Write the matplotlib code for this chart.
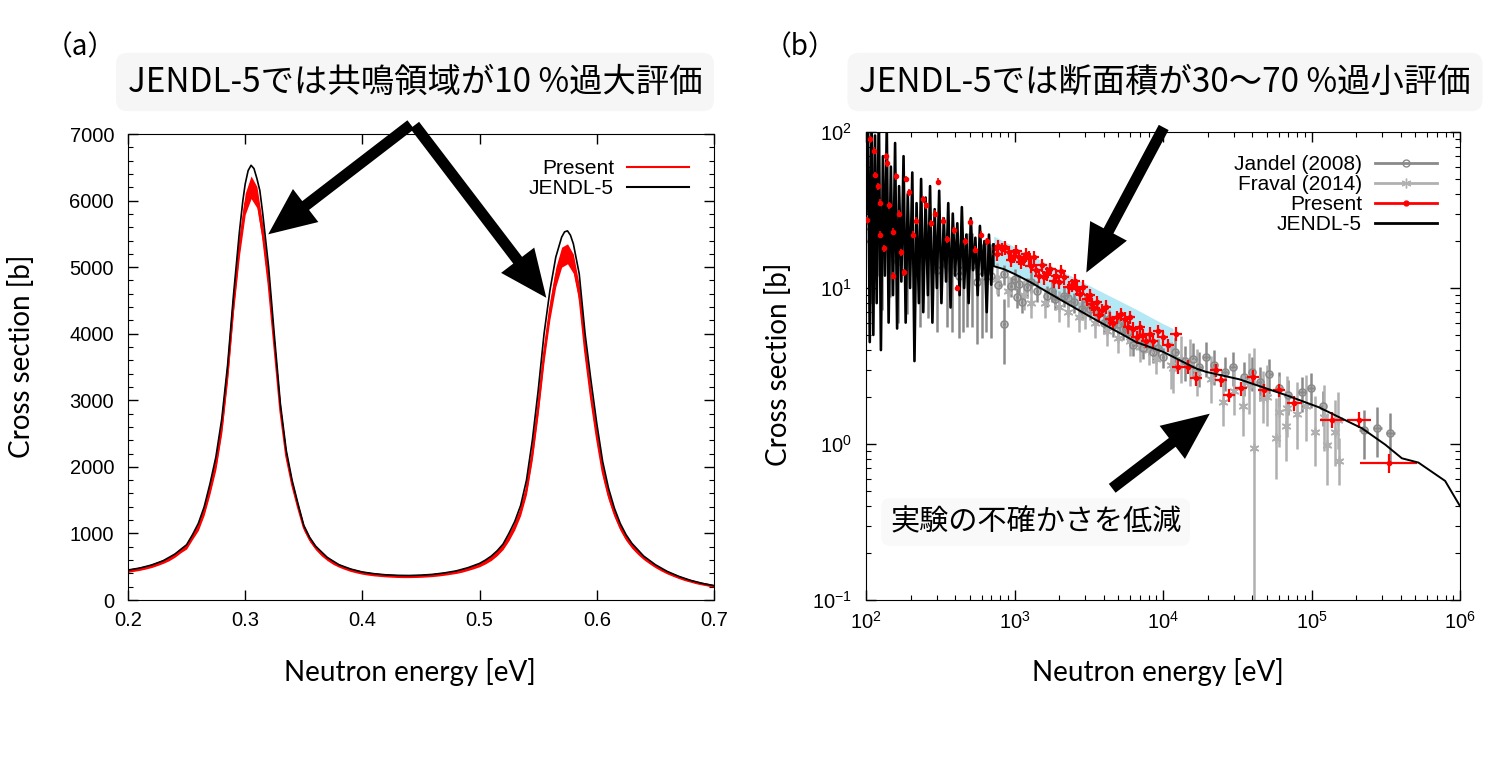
import matplotlib
matplotlib.use('Agg')
import matplotlib.pyplot as plt
from matplotlib.lines import Line2D
from matplotlib.patches import FancyArrowPatch
from matplotlib.ticker import MultipleLocator, LogLocator, NullFormatter
import numpy as np

plt.rcParams['font.family'] = ['Liberation Sans', 'Noto Sans CJK JP', 'DejaVu Sans']

### panel (a): resonance region, linear scale ###
a_jendl_x = [0.200, 0.210, 0.220, 0.230, 0.240, 0.250, 0.255, 0.260, 0.265, 0.270,
             0.275, 0.280, 0.285, 0.290, 0.295, 0.298, 0.300, 0.3025, 0.305, 0.3075,
             0.310, 0.3125, 0.315, 0.320, 0.325, 0.330, 0.335, 0.340, 0.345, 0.350,
             0.355, 0.360, 0.370, 0.380, 0.390, 0.400, 0.410, 0.420, 0.430, 0.440,
             0.450, 0.460, 0.470, 0.480, 0.490, 0.500, 0.505, 0.510, 0.515, 0.520,
             0.525, 0.530, 0.535, 0.540, 0.545, 0.550, 0.555, 0.560, 0.565, 0.570,
             0.5725, 0.575, 0.5775, 0.580, 0.585, 0.590, 0.595, 0.600, 0.605, 0.610,
             0.615, 0.620, 0.625, 0.630, 0.640, 0.650, 0.660, 0.670, 0.680, 0.690, 0.700]
a_jendl_y = [450, 480, 525, 590, 690, 830, 980, 1150, 1400, 1750,
             2150, 2720, 3530, 4580, 5520, 6000, 6250, 6450, 6530, 6480,
             6330, 6150, 5800, 5000, 3950, 2950, 2250, 1800, 1450, 1120,
             940, 810, 640, 530, 465, 420, 395, 378, 370, 368,
             373, 385, 407, 437, 485, 550, 600, 660, 740, 840,
             1000, 1180, 1420, 1800, 2400, 3150, 4000, 4650, 5150, 5450,
             5530, 5545, 5480, 5350, 4900, 4000, 3300, 2650, 2080, 1680,
             1380, 1150, 980, 850, 660, 530, 430, 355, 295, 250, 215]

a_red_x = [0.200, 0.205, 0.210, 0.215, 0.220, 0.225, 0.230, 0.235, 0.240, 0.245,
           0.250, 0.255, 0.260, 0.265, 0.270, 0.275, 0.280, 0.285, 0.290, 0.295,
           0.300, 0.305, 0.310, 0.315, 0.320, 0.325, 0.330, 0.335, 0.340, 0.345,
           0.350, 0.355, 0.360, 0.365, 0.370, 0.375, 0.380, 0.385, 0.390, 0.395,
           0.400, 0.405, 0.410, 0.415, 0.420, 0.425, 0.430, 0.435, 0.440, 0.445,
           0.450, 0.455, 0.460, 0.465, 0.470, 0.475, 0.480, 0.485, 0.490, 0.495,
           0.500, 0.505, 0.510, 0.515, 0.520, 0.525, 0.530, 0.535, 0.540, 0.545,
           0.550, 0.555, 0.560, 0.565, 0.570, 0.575, 0.580, 0.585, 0.590, 0.595,
           0.600, 0.605, 0.610, 0.615, 0.620, 0.625, 0.630, 0.635, 0.640, 0.645,
           0.650, 0.655, 0.660, 0.665, 0.670, 0.675, 0.680, 0.685, 0.690, 0.695, 0.700]
a_red_y = [440, 455, 470, 490, 515, 545, 580, 620, 675, 745,
           805, 950, 1090, 1330, 1660, 2040, 2600, 3420, 4450, 5300,
           5950, 6200, 6050, 5500, 4750, 3800, 2850, 2170, 1740, 1400,
           1090, 915, 790, 695, 622, 563, 518, 483, 453, 430,
           411, 396, 385, 376, 369, 364, 360, 358, 358, 360,
           363, 368, 375, 384, 396, 409, 424, 444, 470, 498,
           530, 575, 630, 705, 800, 940, 1110, 1330, 1660, 2200,
           2900, 3700, 4350, 4850, 5150, 5200, 5050, 4600, 3750, 3050,
           2450, 1930, 1570, 1300, 1090, 930, 810, 715, 635, 570,
           510, 460, 415, 378, 343, 312, 287, 263, 244, 227, 211]
a_red_err = [25, 25, 25, 25, 28, 28, 30, 30, 32, 35,
             38, 40, 45, 55, 65, 80, 95, 110, 125, 140,
             160, 170, 160, 140, 120, 100, 85, 70, 60, 50,
             45, 40, 35, 32, 30, 28, 26, 25, 25, 24,
             24, 23, 23, 22, 22, 22, 22, 22, 22, 22,
             22, 22, 23, 23, 24, 24, 25, 26, 27, 28,
             30, 32, 35, 38, 42, 48, 55, 62, 75, 90,
             105, 120, 135, 145, 150, 150, 145, 135, 120, 105,
             90, 75, 62, 52, 45, 40, 35, 32, 30, 28,
             26, 25, 24, 23, 22, 21, 20, 20, 19, 19, 18]

a_xticks = [0.2, 0.3, 0.4, 0.5, 0.6, 0.7]
a_yticks = [0, 1000, 2000, 3000, 4000, 5000, 6000, 7000]

### panel (b): wide energy range, log-log ###
res_e = [100, 103, 106, 109, 112, 115, 118, 122, 126, 130,
         134, 138, 142, 147, 152, 157, 162, 167, 173, 179,
         185, 191, 198, 205, 212, 219, 227, 235, 243, 252,
         261, 270, 280, 290, 300, 311, 322, 334, 346, 358,
         371, 384, 398, 412, 427, 442, 458, 474, 491, 508,
         526, 545, 565, 585, 606, 627, 650, 673, 697, 722]
res_s = [30, 150, 4.5, 120, 5, 95, 8, 140, 4, 70,
         12, 110, 6, 60, 9, 85, 5.5, 45, 11, 70,
         6, 40, 10, 55, 3.4, 35, 8, 50, 7, 38,
         9, 45, 6, 32, 10, 42, 8, 28, 11, 35,
         7.5, 30, 12, 26, 9, 33, 10, 22, 8, 28,
         13, 21, 9, 25, 12, 20, 7, 22, 10.5, 19]

jendl_e = [722, 725, 850, 1000, 1280, 2000, 3580, 6600, 10000, 16700, 19500, 32600,
           67100, 112000, 219000, 314000, 406000, 525000, 794000, 1000000]
jendl_s = [19, 13.8, 13.2, 12.3, 10.9, 8.5, 6.2, 4.5, 3.9, 3.05, 2.9, 2.6,
           2.06, 1.72, 1.26, 0.99, 0.81, 0.76, 0.58, 0.40]

band_e = [725, 850, 1280, 2000, 3580, 6600, 10000, 11700]
band_lo = [13.8, 13.2, 10.9, 8.5, 6.2, 4.5, 3.9, 3.75]
band_hi = [21.5, 19.9, 16.3, 13.1, 9.8, 7.3, 5.9, 5.5]

# present data, resolved resonance region
pres_res_e = [102, 106, 113, 115, 120, 125, 124, 132, 136, 139,
              143, 151, 153, 159, 167, 172, 181, 186, 196, 207,
              218, 242, 255, 276, 291, 306, 331, 349, 391, 409,
              466, 505, 546, 591, 657, 727]
pres_res_s = [27.3, 90, 75.9, 53, 45, 35.2, 22, 18, 70, 63,
              34, 23, 12, 52, 30, 17, 12.6, 50, 41, 22,
              27, 37, 34, 26, 30, 48, 27, 20.6, 23.4, 10,
              20, 26.5, 17.6, 22, 20, 18]

# present data, 0.7 - 10 keV
pres_e = [780, 828, 918, 991, 1071, 1157, 1250, 1350, 1282, 1458,
          1575, 1745, 1837, 1985, 2143, 2316, 2565, 2771, 3070, 3318,
          3580, 3700, 4400, 4880, 5540, 5990, 6640, 7360, 8160, 10030,
          760, 860, 950, 1030, 1110, 1200, 1400, 1520, 1650, 1900,
          2050, 2450, 2650, 2900, 3200, 3450, 3900, 4150, 4600, 5200,
          5800, 6300, 7000, 7700, 8600, 9300]
pres_s = [18.5, 17.7, 16.9, 16.1, 15.7, 15.3, 15.7, 15.7, 13.9, 12.0,
          11.7, 13.2, 11.1, 10.9, 11.7, 10.1, 11.1, 9.2, 8.5, 7.9,
          8.1, 6.7, 6.35, 6.5, 6.35, 6.5, 4.85, 5.0, 5.1, 4.85,
          16.5, 18.2, 15.2, 17.2, 14.6, 16.4, 13.0, 14.0, 12.4, 12.0,
          12.8, 10.4, 9.9, 10.2, 9.0, 7.4, 7.2, 7.6, 6.0, 6.8,
          5.6, 5.5, 5.6, 4.6, 4.6, 5.3]

# present data, above 10 keV
pres_hi_e = [10830, 12300, 12650, 14750, 16750, 22800, 24600, 28000, 33600, 40200,
             48100, 60600, 76400, 138000, 208000, 331000]
pres_hi_s = [4.3, 5.1, 3.12, 3.12, 2.63, 2.97, 2.57, 2.06, 2.27, 2.70,
             2.22, 2.22, 1.82, 1.43, 1.43, 0.757]
pres_hi_dex = [0.04] * 12 + [0.05, 0.08, 0.08, 0.19]
pres_hi_rel = [0.10] * 12 + [0.11, 0.12, 0.12, 0.14]

jan_e = [104, 108, 118, 128, 145, 165, 190, 230, 260, 300,
         350, 380, 420, 450, 480, 520, 560, 600, 640, 700,
         780, 849, 849, 942, 1000, 1042, 1071, 1127, 1217, 1300,
         1420, 1656, 1800, 1883, 2143, 2300, 2500, 2846, 3000, 3235,
         3600, 3975, 4300, 4640, 5000, 5410, 5800, 6310, 6900, 7360,
         8000, 8590, 9300, 10000,
         12000, 14000, 15900, 17500, 19500, 22000, 26000, 29500, 35000, 40000,
         45000, 51900, 60000, 70000, 86800, 98800, 120000,
         225000, 277000, 340000]
jan_s = [25, 20, 30, 18, 22, 15, 17, 14, 16, 13,
         14, 13, 12, 13, 14, 14, 11, 12, 13, 12,
         10.5, 12.3, 5.9, 10.3, 11.5, 8.7, 10.6, 8.1, 10.1, 11.0,
         9.6, 8.9, 9.6, 8.5, 8.9, 8.6, 8.1, 7.35, 7.8, 7.35,
         7.0, 6.0, 6.3, 5.75, 5.9, 5.5, 5.2, 4.3, 4.7, 4.1,
         4.4, 3.9, 4.1, 3.6,
         3.9, 3.4, 3.53, 3.1, 3.6, 3.2, 2.9, 3.12, 2.7, 2.9,
         2.5, 2.8, 2.3, 2.05, 2.15, 2.28, 1.75,
         1.23, 1.27, 1.17]
jan_rel = [0.6] * 20 + [0.15, 0.15, 0.45] + [0.15] * 31 + [0.25] * 17 + [0.35] * 3
jan_dex = [0.0] * 20 + [0.015] * 34 + [0.02] * 17 + [0.03] * 3

fra_e = [760, 900, 1150, 1300, 1600, 2000, 2300, 2700, 3000, 3500,
         4200, 5000, 6000, 7000, 8000, 9000, 11400, 11700, 13300, 15100,
         17000, 21000, 25300, 30000, 34400, 38000, 41000, 46900, 50000, 57500,
         60000, 67100, 68800, 80000, 91400, 105000, 121000, 128000, 145000, 150000,
         153000]
fra_s = [11.5, 9.5, 9.0, 8.0, 8.0, 7.6, 7.0, 6.5, 6.8, 6.0,
         5.3, 4.8, 4.6, 4.2, 4.0, 3.5, 3.2, 3.05, 3.53, 3.36,
         2.9, 2.6, 1.87, 2.2, 1.74, 2.4, 0.94, 1.96, 2.0, 1.09,
         1.6, 1.30, 1.70, 1.55, 1.74, 1.2, 1.50, 0.99, 1.20, 1.43,
         0.78]
fra_lo = [0.2] * 16 + [0.3] * 8 + [0.35, 0.35, 0.99, 0.3, 0.35, 0.45, 0.4, 0.4, 0.35,
                                   0.4, 0.4, 0.4, 0.4, 0.45, 0.4, 0.35, 0.3]
fra_hi = [0.25] * 16 + [0.4] * 8 + [0.6, 0.6, 3.4, 0.5, 0.6, 0.8, 0.7, 0.7, 0.6,
                                    0.6, 0.6, 0.7, 0.6, 0.6, 0.6, 0.5, 0.4]


def xerr_from_dex(e, dex):
    e, dex = np.asarray(e, float), np.asarray(dex, float)
    return [e * (1 - 10 ** -dex), e * (10 ** dex - 1)]


W, H = 1500, 761
fig = plt.figure(figsize=(W / 100, H / 100), dpi=100)


def fx(px):
    return px / W


def fy(py):
    return 1 - py / H


# ---------------- (a) ----------------
ax1 = fig.add_axes([fx(128), fy(600), (714 - 128) / W, (600 - 134) / H])
ry, re = np.array(a_red_y, float), np.array(a_red_err, float)
ax1.fill_between(a_red_x, ry - re, ry + re, color='red', lw=0, zorder=2)
ax1.plot(a_red_x, a_red_y, color='red', lw=1.6, zorder=2)
ax1.plot(a_jendl_x, a_jendl_y, color='black', lw=1.2, zorder=3)
ax1.set_xlim(0.2, 0.7)
ax1.set_ylim(0, 7000)
ax1.set_xticks(a_xticks)
ax1.set_xticklabels([f'{v:.1f}' for v in a_xticks])
ax1.set_yticks(a_yticks)
ax1.yaxis.set_minor_locator(MultipleLocator(200))
ax1.tick_params(which='both', direction='in', top=True, right=True, labelsize=14.5)
ax1.tick_params(which='major', length=7, width=1)
ax1.tick_params(which='minor', length=3.5, width=0.8)
ax1.tick_params(axis='y', pad=10)
ax1.tick_params(axis='x', pad=8)
h_a = [Line2D([], [], color='red', lw=1.5), Line2D([], [], color='black', lw=1.5)]
ax1.legend(h_a, ['Present', 'JENDL-5'], loc='upper right', frameon=False, markerfirst=False,
           fontsize=15, handlelength=3.0, handletextpad=0.6, labelspacing=0.05,
           borderaxespad=0.9, borderpad=0.3)

# ---------------- (b) ----------------
ax2 = fig.add_axes([fx(866), fy(600), (1460 - 866) / W, (600 - 132) / H])
ax2.set_xscale('log')
ax2.set_yscale('log')
ax2.fill_between(band_e, band_lo, band_hi, color='#b3e8f4', lw=0, zorder=1)

c_jan, c_fra = '#8a8a8a', '#b0b0b0'
js = np.array(jan_s, float)
ax2.errorbar(jan_e, jan_s, yerr=js * np.array(jan_rel), xerr=xerr_from_dex(jan_e, jan_dex),
             fmt='o', ms=5, mfc='none', mec=c_jan, mew=1.2, ecolor=c_jan, elinewidth=1.8,
             capsize=0, zorder=2)
fs = np.array(fra_s, float)
ax2.errorbar(fra_e, fra_s, yerr=[fs * np.array(fra_lo), fs * np.array(fra_hi)],
             xerr=xerr_from_dex(fra_e, [0.015] * len(fra_e)),
             fmt='none', ecolor=c_fra, elinewidth=1.8, capsize=0, zorder=2)
ax2.plot(fra_e, fra_s, ls='none', marker=(6, 2, 0), ms=7, mec=c_fra, mew=1.2, zorder=2)

ax2.plot(res_e, res_s, color='black', lw=1.9, zorder=2.5)

prs = np.array(pres_res_s, float)
ax2.errorbar(pres_res_e, pres_res_s, yerr=prs * 0.05, fmt='o', ms=3, color='red',
             ecolor='red', elinewidth=1.2, capsize=0, zorder=3)
ps = np.array(pres_s, float)
ax2.errorbar(pres_e, pres_s, yerr=ps * 0.10, xerr=xerr_from_dex(pres_e, [0.035] * len(pres_e)),
             fmt='o', ms=3, color='red', ecolor='red', elinewidth=1.6, capsize=0, zorder=3)
phs = np.array(pres_hi_s, float)
ax2.errorbar(pres_hi_e, pres_hi_s, yerr=phs * np.array(pres_hi_rel),
             xerr=xerr_from_dex(pres_hi_e, pres_hi_dex),
             fmt='o', ms=3, color='red', ecolor='red', elinewidth=1.6, capsize=0, zorder=3)

ax2.plot(jendl_e, jendl_s, color='black', lw=1.4, zorder=4)

ax2.set_xlim(1e2, 1e6)
ax2.set_ylim(1e-1, 1e2)
for axis in (ax2.xaxis, ax2.yaxis):
    axis.set_major_locator(LogLocator(base=10, numticks=10))
    axis.set_minor_locator(LogLocator(base=10, subs=np.arange(2, 10), numticks=20))
    axis.set_minor_formatter(NullFormatter())
ax2.tick_params(which='both', direction='in', top=True, right=True, labelsize=14.5)
ax2.tick_params(which='major', length=7, width=1)
ax2.tick_params(which='minor', length=3.5, width=0.8)
ax2.tick_params(axis='y', pad=10)
ax2.tick_params(axis='x', pad=8)
h_b = [Line2D([], [], color=c_jan, lw=2, marker='o', ms=5, mfc='none', mec=c_jan),
       Line2D([], [], color=c_fra, lw=2, marker=(6, 2, 0), ms=7, mec=c_fra),
       Line2D([], [], color='red', lw=2, marker='o', ms=3.5),
       Line2D([], [], color='black', lw=2)]
ax2.legend(h_b, ['Jandel (2008)', 'Fraval (2014)', 'Present', 'JENDL-5'], loc='upper right',
           frameon=False, markerfirst=False, fontsize=15, handlelength=3.0, handletextpad=0.6,
           labelspacing=0.05, borderaxespad=0.9, borderpad=0.2)

# ---------------- texts ----------------
jp = ['Noto Sans CJK JP', 'DejaVu Sans']
lab = ['Lato', 'DejaVu Sans']
fig.text(fx(80), fy(47), '（a）', fontsize=20, family=jp, ha='center', va='center')
fig.text(fx(800), fy(47), '（b）', fontsize=20, family=jp, ha='center', va='center')
box = dict(boxstyle='round,pad=0.35', fc='#f6f6f6', ec='none')
fig.text(fx(415), fy(82), 'JENDL-5では共鳴領域が10 %過大評価', fontsize=24, family=jp,
         ha='center', va='center', bbox=box)
fig.text(fx(1165), fy(82), 'JENDL-5では断面積が30～70 %過小評価', fontsize=24, family=jp,
         ha='center', va='center', bbox=box)
fig.text(fx(890), fy(522), '実験の不確かさを低減', fontsize=21, family=jp, ha='left',
         va='center', bbox=dict(boxstyle='round,pad=0.3', fc='#f9f9f9', ec='none'))

fig.text(fx(22), fy(356), 'Cross section [b]', rotation=90, fontsize=20, family=lab,
         ha='center', va='center')
fig.text(fx(778), fy(364), 'Cross section [b]', rotation=90, fontsize=20, family=lab,
         ha='center', va='center')
fig.text(fx(410), fy(672), 'Neutron energy [eV]', fontsize=20, family=lab, ha='center', va='center')
fig.text(fx(1158), fy(672), 'Neutron energy [eV]', fontsize=20, family=lab, ha='center', va='center')

# ---------------- arrows ----------------
arrows = [((413, 123), (266, 236)), ((413, 123), (548, 300)),
          ((1165, 125), (1085, 275)), ((1110, 490), (1212, 412))]
for (x0, y0), (x1, y1) in arrows:
    fig.add_artist(FancyArrowPatch((fx(x0), fy(y0)), (fx(x1), fy(y1)), transform=fig.transFigure,
                                   arrowstyle='simple,head_length=1.7,head_width=1.5,tail_width=0.4',
                                   mutation_scale=20, color='black', lw=0, zorder=10))

fig.savefig('out.png', dpi=100)
